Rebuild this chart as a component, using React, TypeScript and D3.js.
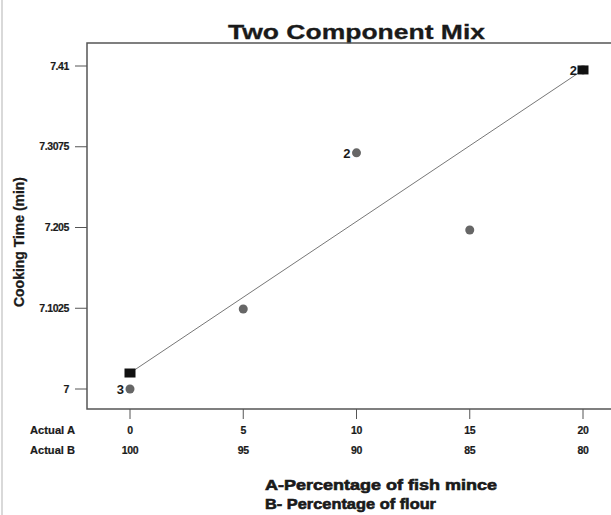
import React from "react";
import * as d3 from "d3";

// design points (A = % fish mince)
const actualA = [0, 5, 10, 15, 20];
const actualB = [100, 95, 90, 85, 80];
const yTicks = [7, 7.1025, 7.205, 7.3075, 7.41];

// observed runs
const obsA = [0, 5, 10, 15, 20];
const obsTime = [7.0, 7.1015, 7.2998, 7.2018, 7.405];
const obsCount = ["3", "", "2", "", "2"];

// model fit at the pure blends
const fitA = [0, 20];
const fitTime = [7.0203, 7.405];

const W = 611;
const H = 515;

const App = () => {
  const x = d3.scaleLinear().domain([0, 20]).range([130, 583]);
  const y = d3.scaleLinear().domain([7, 7.41]).range([389, 66]);

  const frameL = 87;
  const frameT = 43;
  const frameB = 409;

  const line = d3
    .line<number>()
    .x((_, i) => x(fitA[i]))
    .y((d) => y(d));

  const font = "Liberation Sans, Arial, sans-serif";
  const ink = "#1a1a1a";

  return (
    <svg width={W} height={H} style={{ position: "absolute", left: 0, top: 0, background: "#fff" }}>
      <line x1={2} x2={2} y1={0} y2={H} stroke="#ccc" strokeWidth={1.5} />

      <text x={228} y={39} textLength={257} lengthAdjust="spacingAndGlyphs" fontFamily={font} fontWeight="bold" fontSize={21} fill={ink} stroke={ink} strokeWidth={0.3}>
        Two Component Mix
      </text>

      {/* frame */}
      <path d={`M${W + 5},${frameT}H${frameL}V${frameB}H${W + 5}`} fill="none" stroke="#555" strokeWidth={1.5} />

      {/* y axis */}
      {yTicks.map((t) => (
        <g key={t}>
          <line x1={frameL - 12} x2={frameL} y1={y(t)} y2={y(t)} stroke="#555" />
          <text x={frameL - 18} y={y(t)} dy="0.35em" textAnchor="end" fontFamily={font} fontWeight="bold" fontSize={10.5} letterSpacing={-0.4} fill={ink} stroke={ink} strokeWidth={0.2}>
            {t}
          </text>
        </g>
      ))}
      <text
        transform={`translate(24,242) rotate(-90)`}
        x={-65}
        textLength={130}
        lengthAdjust="spacingAndGlyphs"
        fontFamily={font}
        fontWeight="bold"
        fontSize={14}
        fill={ink}
        stroke={ink}
        strokeWidth={0.3}
      >
        Cooking Time (min)
      </text>

      {/* x axis */}
      {actualA.map((a, i) => (
        <g key={a}>
          <line x1={x(a)} x2={x(a)} y1={frameB} y2={frameB + 10} stroke="#555" />
          <text x={x(a)} y={434} textAnchor="middle" fontFamily={font} fontWeight="bold" fontSize={10.5} letterSpacing={-0.3} fill={ink} stroke={ink} strokeWidth={0.2}>
            {a}
          </text>
          <text x={x(a)} y={454} textAnchor="middle" fontFamily={font} fontWeight="bold" fontSize={10.5} letterSpacing={-0.3} fill={ink} stroke={ink} strokeWidth={0.2}>
            {actualB[i]}
          </text>
        </g>
      ))}
      <text x={30} y={434} textLength={45} lengthAdjust="spacingAndGlyphs" fontFamily={font} fontWeight="bold" fontSize={10.5} fill={ink} stroke={ink} strokeWidth={0.2}>
        Actual A
      </text>
      <text x={30} y={454} textLength={45} lengthAdjust="spacingAndGlyphs" fontFamily={font} fontWeight="bold" fontSize={10.5} fill={ink} stroke={ink} strokeWidth={0.2}>
        Actual B
      </text>

      <text x={265} y={490} textLength={232} lengthAdjust="spacingAndGlyphs" fontFamily={font} fontWeight="bold" fontSize={14.5} fill={ink} stroke={ink} strokeWidth={0.6}>
        A-Percentage of fish mince
      </text>
      <text x={265} y={509} textLength={171} lengthAdjust="spacingAndGlyphs" fontFamily={font} fontWeight="bold" fontSize={14.5} fill={ink} stroke={ink} strokeWidth={0.6}>
        B- Percentage of flour
      </text>

      {/* fit line */}
      <path d={line(fitTime) ?? ""} fill="none" stroke="#777" strokeWidth={1} />

      {/* observed points */}
      {obsA.map((a, i) => (
        <g key={i}>
          <circle cx={x(a)} cy={y(obsTime[i])} r={4.5} fill="#666" />
          {obsCount[i] && (
            <text x={x(a) - 6} y={y(obsTime[i])} dy="0.38em" textAnchor="end" fontFamily={font} fontWeight="bold" fontSize={13} fill={ink}>
              {obsCount[i]}
            </text>
          )}
        </g>
      ))}

      {/* fit points */}
      {fitA.map((a, i) => (
        <rect key={i} x={x(a) - 5.5} y={y(fitTime[i]) - 4.5} width={11} height={9} fill="#111" />
      ))}
    </svg>
  );
};

export default App;
